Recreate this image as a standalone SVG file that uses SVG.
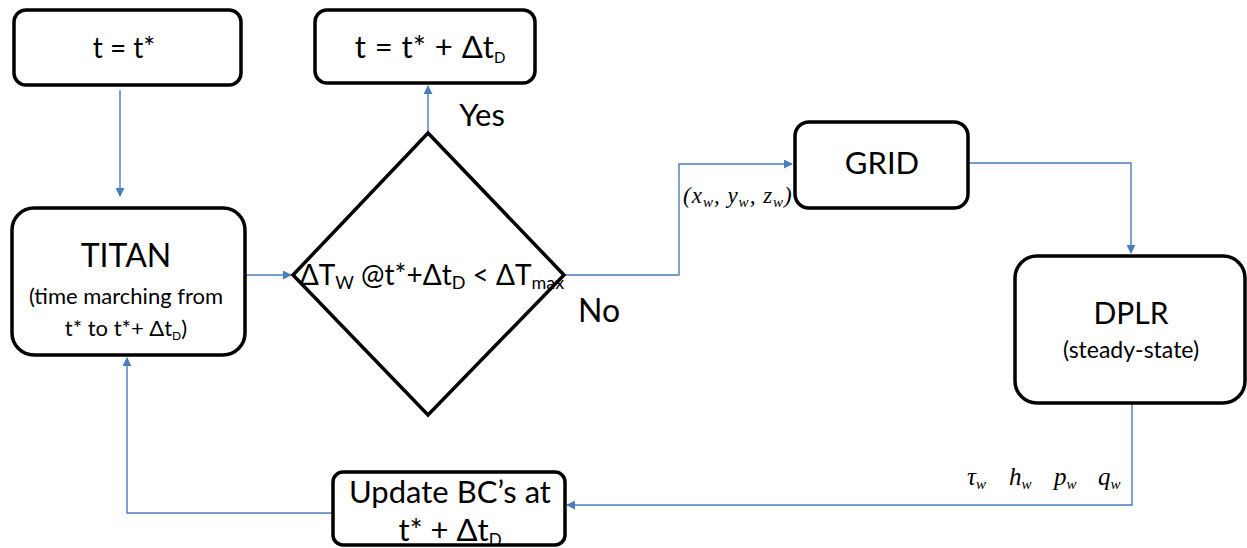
<svg xmlns="http://www.w3.org/2000/svg" width="1247" height="548" viewBox="0 0 1247 548">
<style>
.box{fill:#fff;stroke:#000;stroke-width:3.5}
.t{font-family:Lato,"Open Sans","Liberation Sans",sans-serif;fill:#000;text-anchor:middle}
.m{font-family:"Liberation Serif",serif;font-style:italic;fill:#000}
.c{fill:none;stroke:#4a7ebb;stroke-width:1.4}
</style>
<defs>
<marker id="ah" viewBox="0 0 10 10" refX="9" refY="5" markerWidth="9" markerHeight="9" markerUnits="userSpaceOnUse" orient="auto">
<path d="M0,0 L10,5 L0,10 z" fill="#4a7ebb"/>
</marker>
</defs>
<g id="connectors">
<path class="c" d="M120,90 V196" marker-end="url(#ah)"/>
<path class="c" d="M247,275 H291" marker-end="url(#ah)"/>
<path class="c" d="M428,132 V86" marker-end="url(#ah)"/>
<path class="c" d="M566,275 H679 V164 H792" marker-end="url(#ah)"/>
<path class="c" d="M969,163 H1131 V253" marker-end="url(#ah)"/>
<path class="c" d="M1132,404 V505 H567" marker-end="url(#ah)"/>
<path class="c" d="M332,513 H127 V358" marker-end="url(#ah)"/>
</g>
<g id="start">
<rect class="box" x="14" y="10" width="227" height="75" rx="12"/>
<text class="t" x="124" y="58" font-size="28">t = t*</text>
</g>
<g id="end">
<rect class="box" x="315" y="10" width="220" height="73" rx="12"/>
<text class="t" x="430" y="58" font-size="31" word-spacing="1">t = t* + Δt<tspan font-size="15" dy="5">D</tspan></text>
</g>
<g id="titan">
<rect class="box" x="12" y="208" width="233" height="147" rx="22"/>
<text class="t" x="126" y="267" font-size="32">TITAN</text>
<text class="t" x="126" y="304" font-size="22">(time marching from</text>
<text class="t" x="126" y="336" font-size="22">t* to t*+ Δt<tspan font-size="12" dy="4">D</tspan><tspan dy="-4">)</tspan></text>
</g>
<g id="decision">
<path class="box" d="M428,133 L564,275 L428,415 L293,275 Z"/>
<text class="t" x="432" y="285" font-size="28">ΔT<tspan font-size="18" dy="4">W</tspan><tspan dy="-4"> @t*+Δt</tspan><tspan font-size="18" dy="4">D</tspan><tspan dy="-4"> &lt; ΔT</tspan><tspan font-size="18" dy="4">max</tspan></text>
<text class="t" x="482" y="126" font-size="31">Yes</text>
<text class="t" x="599" y="322" font-size="32">No</text>
</g>
<g id="grid">
<rect class="box" x="795" y="122" width="173" height="86" rx="14"/>
<text class="t" x="882" y="174" font-size="31">GRID</text>
<text class="m" x="683" y="203" font-size="23" letter-spacing="1">(x<tspan font-size="15" dy="4">w</tspan><tspan dy="-4">, y</tspan><tspan font-size="15" dy="4">w</tspan><tspan dy="-4">, z</tspan><tspan font-size="15" dy="4">w</tspan><tspan dy="-4">)</tspan></text>
</g>
<g id="dplr">
<rect class="box" x="1015" y="256" width="230" height="147" rx="22"/>
<text class="t" x="1131" y="324" font-size="30">DPLR</text>
<text class="t" x="1131" y="358" font-size="23">(steady-state)</text>
<text class="m" x="967" y="485" font-size="25">τ<tspan font-size="15" dy="4">w</tspan></text>
<text class="m" x="1009" y="485" font-size="25">h<tspan font-size="15" dy="4">w</tspan></text>
<text class="m" x="1054" y="485" font-size="25">p<tspan font-size="15" dy="4">w</tspan></text>
<text class="m" x="1098" y="485" font-size="25">q<tspan font-size="15" dy="4">w</tspan></text>
</g>
<g id="update">
<rect class="box" x="333" y="472" width="232" height="73" rx="10"/>
<text class="t" x="450" y="503" font-size="31">Update BC’s at</text>
<text class="t" x="450" y="541" font-size="31">t* + Δt<tspan font-size="17" dy="5">D</tspan></text>
</g>
</svg>
